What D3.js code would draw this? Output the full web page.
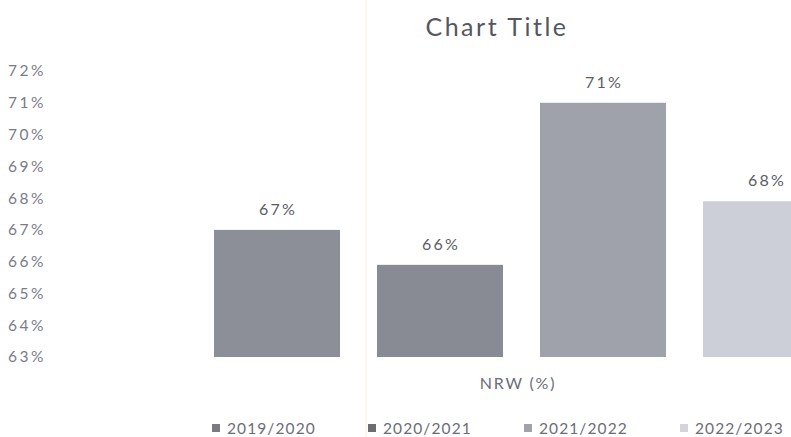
<!DOCTYPE html>
<html>
<head>
<meta charset="utf-8">
<script src="https://cdn.jsdelivr.net/npm/d3@7"></script>
<style>
  html, body { margin: 0; padding: 0; background: #fff; }
  svg { display: block; }
  text { font-family: Lato, "Open Sans", sans-serif; }
</style>
</head>
<body>
<svg id="chart" width="791" height="437"></svg>
<script>
const categories = ["2019/2020", "2020/2021", "2021/2022", "2022/2023"];
const values = [67.0, 65.9, 71.0, 67.9];
const valueLabels = ["67%", "66%", "71%", "68%"];
const yTicks = [63, 64, 65, 66, 67, 68, 69, 70, 71, 72];
const barColors = ["#8d8f98", "#898b94", "#a0a2ab", "#cdcfd8"];
const legendColors = ["#7a7b80", "#6c6d72", "#a2a3a8", "#d4d5da"];
const titleText = "Chart Title";
const axisTitle = "NRW (%)";

const svg = d3.select("#chart");

const y = d3.scaleLinear().domain([63, 72]).range([357, 71]);
const x = d3.scaleBand().domain(categories)
  .range([195.5, 847.5]).paddingInner(0.227).paddingOuter(0.1135);
const lx = d3.scalePoint().domain(categories).range([212, 680]);

// faint vertical line seen in reference
svg.append("line").attr("x1", 366).attr("x2", 366).attr("y1", 0).attr("y2", 437)
  .attr("stroke", "#f7f5ea").attr("stroke-width", 1.5);

// title
svg.append("text").attr("x", 497).attr("y", 36).attr("text-anchor", "middle")
  .attr("font-size", 25).attr("fill", "#55575f").attr("letter-spacing", 2.5).text(titleText);

// y axis labels
const yAxis = d3.axisLeft(y).tickValues(yTicks).tickFormat(d => d + "%").tickSize(0);
const yg = svg.append("g").attr("transform", "translate(8,0)").call(yAxis);
yg.select(".domain").remove();
yg.selectAll("text").attr("text-anchor", "start").attr("x", 0)
  .attr("font-size", 15.5).attr("letter-spacing", 2.5)
  .attr("fill", "#787c8a").attr("font-family", "Lato, sans-serif");

// bars
svg.append("g").selectAll("rect").data(categories).join("rect")
  .attr("x", d => x(d)).attr("width", x.bandwidth())
  .attr("y", (d, i) => y(values[i])).attr("height", (d, i) => y(63) - y(values[i]))
  .attr("fill", (d, i) => barColors[i]);

// value labels
svg.append("g").selectAll("text").data(categories).join("text")
  .attr("x", d => x(d) + x.bandwidth() / 2 + 1)
  .attr("y", (d, i) => y(values[i]) - 15)
  .attr("text-anchor", "middle").attr("font-size", 16).attr("fill", "#5a5d66")
  .attr("letter-spacing", 2.2)
  .text((d, i) => valueLabels[i]);

// axis title
svg.append("text").attr("x", 518).attr("y", 389).attr("text-anchor", "middle")
  .attr("font-size", 16).attr("fill", "#6a6d78").attr("letter-spacing", 1.8).text(axisTitle);

// legend
const lg = svg.append("g").selectAll("g").data(categories).join("g")
  .attr("transform", d => `translate(${lx(d)},0)`);
lg.append("rect").attr("x", 0).attr("y", 424).attr("width", 8).attr("height", 8)
  .attr("fill", (d, i) => legendColors[i]);
lg.append("text").attr("x", 15).attr("y", 434).attr("font-size", 15.5)
  .attr("letter-spacing", 1.1).attr("fill", "#6a6d78").text(d => d);
</script>
</body>
</html>
